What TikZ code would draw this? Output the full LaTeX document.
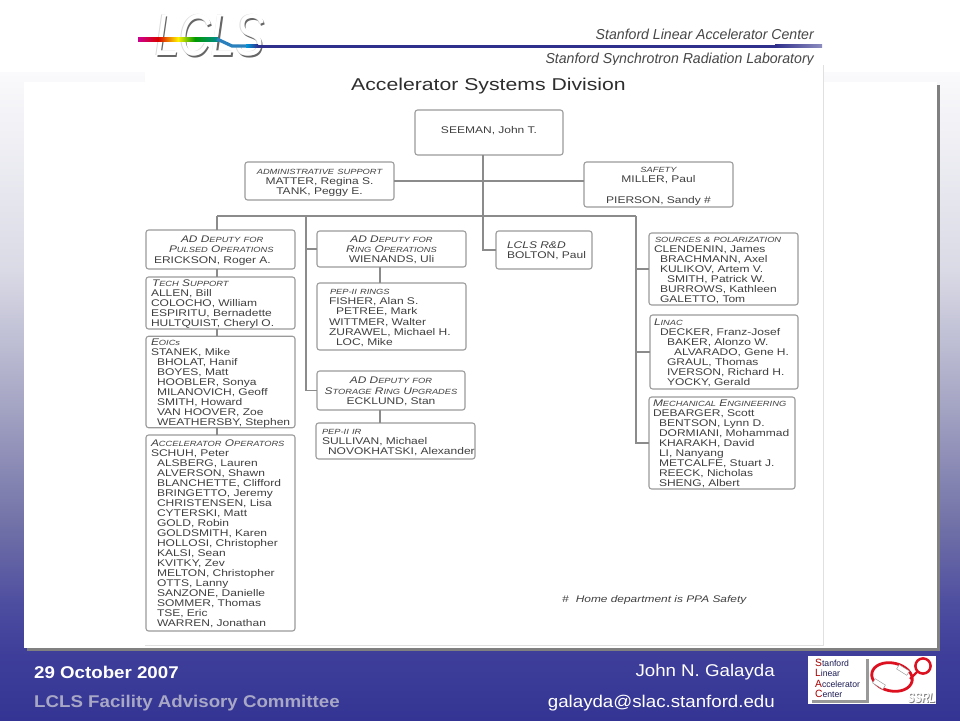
\documentclass[tikz,border=0pt]{standalone}
\usepackage{fontspec}
\usetikzlibrary{calc}
\setmainfont{Liberation Sans}
\newfontfamily\orgf[FakeStretch=1.24]{Liberation Sans}
\newfontfamily\footf[FakeStretch=1.1]{Liberation Sans}
\newfontfamily\logof[FakeStretch=0.74]{Liberation Sans}
\newfontfamily\headf[FakeStretch=0.98]{Liberation Sans}
\definecolor{bga}{HTML}{FAFAFC}
\definecolor{bgb}{HTML}{DADAE6}
\definecolor{bgc}{HTML}{A8A8C6}
\definecolor{bgd}{HTML}{7272A8}
\definecolor{bge}{HTML}{4C4CA0}
\definecolor{bgf}{HTML}{3E3E9A}
\definecolor{bgg}{HTML}{343494}
\definecolor{inktext}{HTML}{404040}
\definecolor{boxline}{HTML}{9A9A9A}
\definecolor{navybar}{HTML}{2F2F8C}
\definecolor{slacred}{HTML}{DD1020}
\newcommand{\hdS}[1]{{\fontsize{7.5}{10.05}\selectfont\itshape #1}}
\newcommand{\hdB}[1]{{\fontsize{9.6}{10.05}\selectfont\itshape #1}}
\newcommand{\ind}[1]{\hspace*{#1pt}}
\tikzset{
  orgbox/.style={draw=boxline,line width=1.1pt,rounded corners=2.6pt,fill=white,text=inktext,
    inner xsep=4pt,inner ysep=0pt,outer sep=0pt,align=left,
    font=\orgf\fontsize{9.7}{10.05}\selectfont,
    execute at begin node={\rule{0pt}{9pt}},
    execute at end node={\rule[-2pt]{0pt}{2pt}}},
  wire/.style={draw=boxline!90!black,line width=1.2pt},
  foottext/.style={font=\footf\fontsize{17}{20}\selectfont,inner sep=0pt},
  headtext/.style={font=\headf\itshape\fontsize{14.4}{16}\selectfont,text=black!72,inner sep=0pt,anchor=east},
}
\newcommand{\orgnode}[6][]{%
  \pgfmathsetmacro\orgw{#5-#3}\pgfmathsetmacro\orgh{#6-#4}%
  \pgfmathsetmacro\orgt{#5-#3-8}%
  \pgfmathsetmacro\orgx{(#3+#5)/2}\pgfmathsetmacro\orgy{(#4+#6)/2}%
  \node[orgbox,minimum width=\orgw pt,minimum height=\orgh pt,text width=\orgt pt,#1] (#2) at (\orgx,\orgy)}
\begin{document}
\begin{tikzpicture}[x=1pt,y=-1pt]
\useasboundingbox (0,0) rectangle (960,720);
% slide background
\fill[white] (0,0) rectangle (960,72);
\shade[top color=bga,bottom color=bgb] (0,72) rectangle (960,270.3);
\shade[top color=bgb,bottom color=bgc] (0,270) rectangle (960,397.3);
\shade[top color=bgc,bottom color=bgd] (0,397) rectangle (960,523.3);
\shade[top color=bgd,bottom color=bge] (0,523) rectangle (960,607.3);
\shade[top color=bge,bottom color=bgf] (0,607) rectangle (960,655.3);
\shade[top color=bgf,bottom color=bgg] (0,655) rectangle (960,720);
\fill[black!50] (27,85) rectangle (940,651);
\fill[white] (24,82) rectangle (937,648);
% header
\node[headtext] (hdslac) at (814,34.5) {Stanford Linear Accelerator Center};
\node[headtext] (hdssrl) at (814,60) {Stanford Synchrotron Radiation Laboratory};
% LCLS logo
\node[font=\logof\itshape\fontsize{59}{60}\selectfont,text=black!60,inner sep=0pt] (logoshadow) at (211.2,37) {LCLS};
\node[font=\logof\itshape\fontsize{59}{60}\selectfont,text=black!14,inner sep=0pt] (logoedge) at (209.2,35) {LCLS};
\node[font=\logof\itshape\fontsize{59}{60}\selectfont,text=white,inner sep=0pt] (logo) at (209.7,35.5) {LCLS};
% rainbow beam
\shade[left color=magenta!70!red!80!black,right color=red!85!black] (138,37) rectangle (158,41);
\shade[left color=red!85!black,right color=yellow!90!orange] (158,37) rectangle (178,41);
\shade[left color=yellow!90!orange,right color=green!60!black] (178,37) rectangle (195,41);
\shade[left color=green!60!black,right color=teal!90!cyan] (195,37) rectangle (218,41);
\draw[line width=3.2pt,color=cyan!70!blue!85!black] (217,39) -- (232,46) -- (246,46);
\shade[left color=cyan!70!blue!85!black,right color=navybar] (246,44.5) rectangle (258,47.6);
\fill[navybar] (258,44.5) rectangle (775,47.6);
\shade[left color=navybar,right color=navybar!55!white] (775,44.5) rectangle (822,47.6);
% document panel
\fill[white] (145,65) rectangle (823,645);
\draw[black!12,line width=0.6pt] (823,65) -- (823,645) -- (145,645);
% title
\node[font=\orgf\fontsize{17.1}{19}\selectfont,text=black!82,inner sep=0pt] (title) at (488.5,86.5) {Accelerator Systems Division};
% boxes
\orgnode[align=center]{seeman}{415}{110}{563}{155}{SEEMAN, John T.\\[-6pt]~};
\orgnode[align=center]{admin}{245}{162}{394}{200}{\hdS{ADMINISTRATIVE SUPPORT}\\MATTER, Regina S.\\TANK, Peggy E.};
\orgnode[align=center]{safety}{584}{162}{733}{207}{\hdS{SAFETY}\\MILLER, Paul\\~\\PIERSON, Sandy \#};
\orgnode{pulsed}{146}{230}{295}{269}{\ind{31}\hdB{AD D}\hdS{EPUTY FOR}\\\ind{19}\hdB{P}\hdS{ULSED }\hdB{O}\hdS{PERATIONS}\\\ind{4}ERICKSON, Roger A.};
\orgnode[align=center]{ring}{317}{231}{466}{267}{\hdB{AD D}\hdS{EPUTY FOR}\\\hdB{R}\hdS{ING }\hdB{O}\hdS{PERATIONS}\\WIENANDS, Uli};
\orgnode{lcls}{496}{231}{592}{269}{\ind{7}{\itshape LCLS R\&D}\\\ind{7}BOLTON, Paul};
\orgnode{sources}{649}{233}{798}{305}{\ind{2}\hdS{SOURCES \& POLARIZATION}\\\ind{1}CLENDENIN, James\\\ind{7}BRACHMANN, Axel\\\ind{7}KULIKOV, Artem V.\\\ind{14}SMITH, Patrick W.\\\ind{7}BURROWS, Kathleen\\\ind{7}GALETTO, Tom};
\orgnode{tech}{146}{277}{295}{329}{\ind{2}\hdB{T}\hdS{ECH }\hdB{S}\hdS{UPPORT}\\\ind{1}ALLEN, Bill\\\ind{1}COLOCHO, William\\\ind{1}ESPIRITU, Bernadette\\\ind{1}HULTQUIST, Cheryl O.};
\orgnode{peprings}{317}{283}{466}{350}{\ind{9}\hdS{PEP-II RINGS}\\\ind{8}FISHER, Alan S.\\\ind{15}PETREE, Mark\\\ind{8}WITTMER, Walter\\\ind{8}ZURAWEL, Michael H.\\\ind{15}LOC, Mike};
\orgnode{linac}{650}{315}{798}{389}{\hdB{L}\hdS{INAC}\\\ind{6}DECKER, Franz-Josef\\\ind{13}BAKER, Alonzo W.\\\ind{20}ALVARADO, Gene H.\\\ind{13}GRAUL, Thomas\\\ind{13}IVERSON, Richard H.\\\ind{13}YOCKY, Gerald};
\orgnode{eoics}{146}{337}{295}{427}{\ind{1}\hdB{E}\hdS{OIC}{\fontsize{7.5}{10.05}\selectfont\itshape s}\\\ind{1}STANEK, Mike\\\ind{7}BHOLAT, Hanif\\\ind{7}BOYES, Matt\\\ind{7}HOOBLER, Sonya\\\ind{7}MILANOVICH, Geoff\\\ind{7}SMITH, Howard\\\ind{7}VAN HOOVER, Zoe\\\ind{7}WEATHERSBY, Stephen};
\orgnode[align=center]{storage}{317}{371}{465}{410}{\hdB{AD D}\hdS{EPUTY FOR}\\\hdB{S}\hdS{TORAGE }\hdB{R}\hdS{ING }\hdB{U}\hdS{PGRADES}\\ECKLUND, Stan};
\orgnode{mech}{649}{397}{795}{489}{\hdB{M}\hdS{ECHANICAL }\hdB{E}\hdS{NGINEERING}\\DEBARGER, Scott\\\ind{6}BENTSON, Lynn D.\\\ind{6}DORMIANI, Mohammad\\\ind{6}KHARAKH, David\\\ind{6}LI, Nanyang\\\ind{6}METCALFE, Stuart J.\\\ind{6}REECK, Nicholas\\\ind{6}SHENG, Albert};
\orgnode{pepir}{316}{423}{475}{459}{\ind{2}\hdS{PEP-II IR}\\\ind{2}SULLIVAN, Michael\\\ind{8}\makebox[0pt][l]{NOVOKHATSKI, Alexander}};
\orgnode{accops}{146}{435}{295}{631}{\ind{1}\hdB{A}\hdS{CCELERATOR }\hdB{O}\hdS{PERATORS}\\\ind{1}SCHUH, Peter\\\ind{7}ALSBERG, Lauren\\\ind{7}ALVERSON, Shawn\\\ind{7}BLANCHETTE, Clifford\\\ind{7}BRINGETTO, Jeremy\\\ind{7}CHRISTENSEN, Lisa\\\ind{7}CYTERSKI, Matt\\\ind{7}GOLD, Robin\\\ind{7}GOLDSMITH, Karen\\\ind{7}HOLLOSI, Christopher\\\ind{7}KALSI, Sean\\\ind{7}KVITKY, Zev\\\ind{7}MELTON, Christopher\\\ind{7}OTTS, Lanny\\\ind{7}SANZONE, Danielle\\\ind{7}SOMMER, Thomas\\\ind{7}TSE, Eric\\\ind{7}WARREN, Jonathan};
% footnote
\node[font=\orgf\itshape\fontsize{9.6}{10}\selectfont,text=inktext,inner sep=0pt,anchor=west] (footnote) at (562,600) {\#\hspace{7pt}Home department is PPA Safety};
% connector junctions
\coordinate (jl) at (217,216);
\coordinate (jm) at (306,216);
\coordinate (jc) at (483,216);
\coordinate (jr) at (636,216);
\coordinate (jp) at (380,216);
% connectors
\draw[wire] (seeman.south -| jc) |- (lcls.west);
\draw[wire] (admin.east) -- (admin.east -| jc);
\draw[wire] (safety.west |- admin.east) -- (admin.east -| jc);
\draw[wire] (jl) -- (jr);
\draw[wire] (jl) -- (jl |- pulsed.north);
\draw[wire] (jl |- pulsed.south) -- (jl |- tech.north);
\draw[wire] (jl |- tech.south) -- (jl |- eoics.north);
\draw[wire] (jl |- eoics.south) -- (jl |- accops.north);
\draw[wire] (jm) |- (storage.west);
\draw[wire] (jm |- ring.west) -- (ring.west);
\draw[wire] (jp |- ring.south) -- (jp |- peprings.north);
\draw[wire] (jp |- storage.south) -- (jp |- pepir.north);
\draw[wire] (jr) |- (sources.west);
\draw[wire] (jr |- sources.west) |- (linac.west);
\draw[wire] (jr |- linac.west) |- (mech.west);
% footer
\node[foottext,anchor=west,text=white,font=\footf\bfseries\fontsize{17}{20}\selectfont] (date) at (34,672) {29 October 2007};
\node[foottext,anchor=west,text=bgc,font=\footf\bfseries\fontsize{17}{20}\selectfont] (committee) at (34,703) {LCLS Facility Advisory Committee};
\node[foottext,anchor=east,text=white] (author) at (775,672) {John N. Galayda};
\node[foottext,anchor=east,text=white] (email) at (775,703) {galayda@slac.stanford.edu};
% SLAC / SSRL logo
\fill[white] (808,656) rectangle (936,704);
\fill[black!40] (866,659) rectangle (869,702.5);
\fill[black!40] (812,700) rectangle (869,702.5);
\node[font=\headf\fontsize{8.8}{10.3}\selectfont,align=left,inner sep=0pt,anchor=north west,text=navybar!60!black] (slactext) at (815,659)
 {{\fontsize{10.5}{10.3}\selectfont\color{red!65!black}S}tanford\\{\fontsize{10.5}{10.3}\selectfont\color{red!65!black}L}inear\\{\fontsize{10.5}{10.3}\selectfont\color{red!65!black}A}ccelerator\\{\fontsize{10.5}{10.3}\selectfont\color{red!65!black}C}enter};
\draw[slacred,line width=2.8pt,rotate around={-12:(892,677)}] (892,677) ellipse (20.5 and 14);
\draw[slacred,line width=2.5pt] (923,666) circle (7.6);
\draw[slacred,line width=2.2pt] (917,672) -- (910,679);
\fill[white,draw=black!45,line width=0.4pt,rotate around={-32:(903,670)}] (897,667.5) rectangle (909,672.5);
\fill[white,draw=black!45,line width=0.4pt,rotate around={-32:(879,684)}] (873,681.5) rectangle (885,686.5);
\node[font=\logof\bfseries\itshape\fontsize{14}{15}\selectfont,text=black!50,inner sep=0pt,anchor=east] (ssrlshadow) at (936.5,699) {SSRL};
\node[font=\logof\bfseries\itshape\fontsize{14}{15}\selectfont,text=white,inner sep=0pt,anchor=east] (ssrl) at (935.5,698) {SSRL};
\end{tikzpicture}
\end{document}
